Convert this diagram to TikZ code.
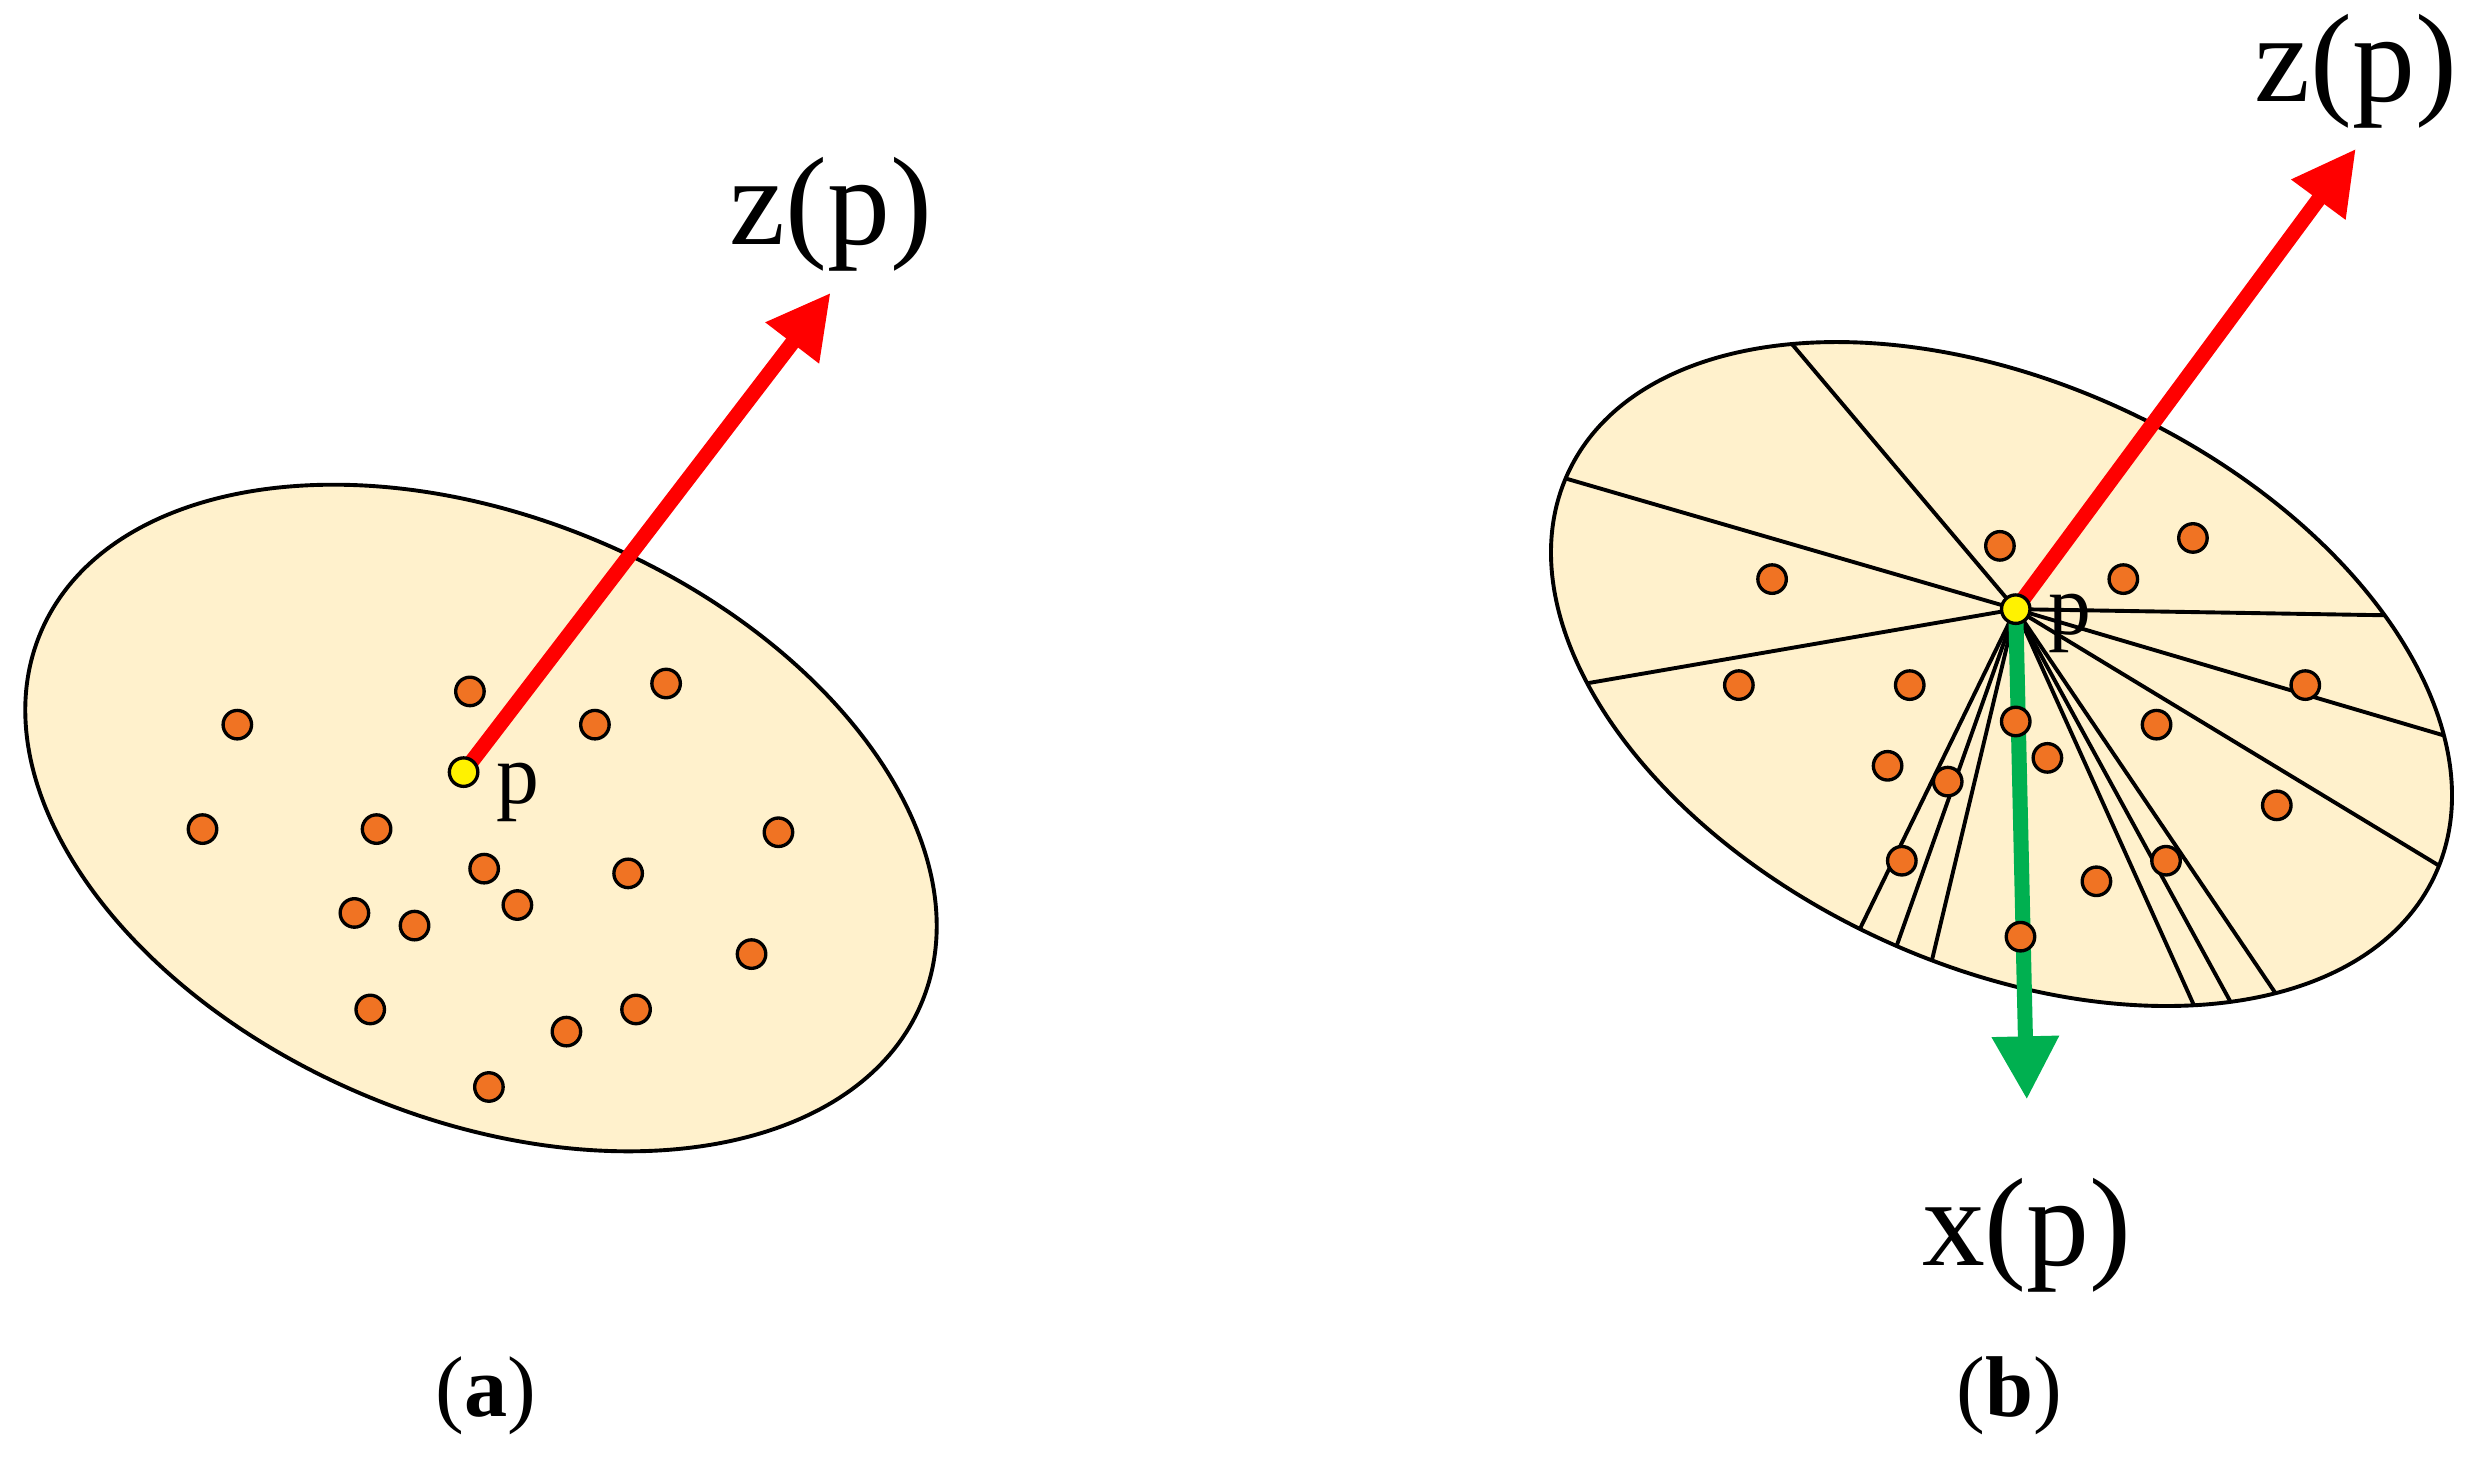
\documentclass[tikz,border=0pt]{standalone}
\usepackage{fontspec}
\setmainfont{Liberation Serif}
\usepackage{tikz}
\usetikzlibrary{arrows.meta,positioning,calc}
\definecolor{discfill}{RGB}{255,241,204}
\definecolor{dotorange}{RGB}{240,115,35}
\definecolor{normalgreen}{RGB}{0,176,80}

\begin{document}
\begin{tikzpicture}[x=0.01cm, y=-0.01cm]
	\tikzstyle{disc} = [fill=discfill]
	\tikzstyle{rim} = [draw, line width=0.7pt]
	\tikzstyle{sample} = [circle, draw, fill=dotorange, line width=0.6pt, inner sep=0pt, minimum size=0.18cm]
	\tikzstyle{seed} = [circle, draw, fill=yellow, line width=0.6pt, inner sep=0pt, minimum size=0.18cm]
	\tikzstyle{vec} = [draw, -{Triangle[length=0.4cm, width=0.4cm]}, line width=2.7pt]
	\tikzstyle{biglabel} = [inner sep=0pt, font=\fontsize{22.6}{27}\selectfont]
	\tikzstyle{plabel} = [inner sep=0pt, font=\fontsize{15.4}{18}\selectfont]
	\tikzstyle{caption} = [inner sep=0pt, font=\fontsize{15.5}{18}\selectfont]
	\useasboundingbox (0,0) rectangle (1563,921);
	% (a) neighbourhood of p
	\path [disc, rim, rotate around={-22.8:(304,517)}] (304,517) ellipse [x radius=302, y radius=190];
	\coordinate (pca) at (293,488);
	\coordinate (za) at (525,185);
	\path [vec, red] (pca) -- (za);
	\foreach \x/\y [count=\i] in {150/458, 297/437, 376/458, 421/432, 128/524, 238/524, 492/526, 306/549, 397/552,
		224/577, 262/585, 327/572, 475/603, 234/638, 402/638, 358/652, 309/687}
		\node [sample] (a\i) at (\x,\y) {};
	\node [seed] (pa) at (pca) {};
	\node [plabel, right=0.1cm of pa, yshift=-0.13cm] (pla) {p};
	\node [biglabel, above=0.13cm of za] (zla) {z(p)};
	\node [caption] (capa) at (307,882) {(\textbf{a})};
	% (b) neighbourhood of p cut into sectors
	\path [disc, rotate around={-24.9:(1265,426)}] (1265,426) ellipse [x radius=302, y radius=184];
	\coordinate (pcb) at (1274,385);
	\begin{scope}
		\clip [rotate around={-24.9:(1265,426)}] (1265,426) ellipse [x radius=302, y radius=184];
		\foreach \x/\y in {1133/218, 995/304, 1008/431, 1516/389, 1552/467, 1543/548,
			1437/626, 1408/630, 1386/634, 1177/584, 1199/597, 1221/607}
			\draw [line width=0.7pt] (pcb) -- ($(pcb)!1.3!(\x,\y)$);
	\end{scope}
	\path [rim, rotate around={-24.9:(1265,426)}] (1265,426) ellipse [x radius=302, y radius=184];
	\coordinate (zb) at (1489,94);
	\coordinate (xb) at (1281,695);
	\path [vec, red] (pcb) -- (zb);
	\path [vec, normalgreen] (pcb) -- (xb);
	\foreach \x/\y [count=\i] in {1264/345, 1386/340, 1342/366, 1120/366, 1099/433, 1207/433, 1457/433, 1274/456, 1363/458,
		1294/479, 1193/484, 1231/494, 1439/509, 1202/544, 1369/544, 1325/557, 1277/592}
		\node [sample] (b\i) at (\x,\y) {};
	\node [seed] (pb) at (pcb) {};
	\node [plabel, right=0.1cm of pb, yshift=-0.09cm] (plb) {p};
	\node [biglabel, above=0.12cm of zb] (zlb) {z(p)};
	\node [biglabel, below=0.49cm of xb] (xlb) {x(p)};
	\node [caption] (capb) at (1270,882) {(\textbf{b})};
\end{tikzpicture}
\end{document}
